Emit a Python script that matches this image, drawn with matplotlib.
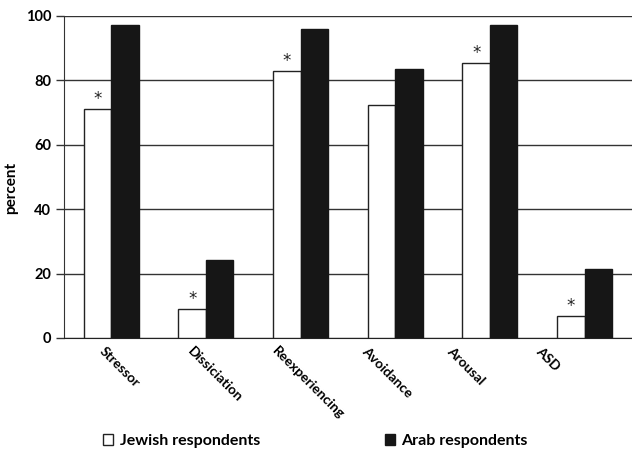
import matplotlib.pyplot as plt
import matplotlib.transforms as mtransforms
import numpy as np

categories = ["Stressor", "Dissiciation", "Reexperiencing", "Avoidance", "Arousal", "ASD"]
jewish = [71.0, 9.1, 83.0, 72.4, 85.3, 6.7]
arab = [97.3, 24.1, 95.9, 83.6, 97.3, 21.4]
significant = [True, True, True, False, True, True]

plt.rcParams["font.family"] = ["Lato", "DejaVu Sans"]
plt.rcParams["font.weight"] = "bold"
plt.rcParams["font.size"] = 10

fig = plt.figure(figsize=(6.32, 4.53), dpi=100)
ax = fig.add_axes([0.101, 0.254, 0.899, 0.711])

x = np.arange(len(categories))
w = 0.29
ax.bar(x - w / 2, jewish, w, color="white", edgecolor="#222222", linewidth=1.0,
       label="Jewish respondents", zorder=3)
ax.bar(x + w / 2, arab, w, color="#161616", edgecolor="#161616", linewidth=1.0,
       label="Arab respondents", zorder=3)

# asterisks over the significant differences
for i, v in enumerate(jewish):
    if significant[i]:
        ax.text(x[i] - w / 2, v + 0.3, "*", ha="center", va="bottom", fontsize=12,
                fontweight="normal", family="DejaVu Sans", color="#222222")

ax.set_xlim(-0.5, len(categories) - 0.5)
ax.set_ylim(0, 100)
ax.set_yticks([0, 20, 40, 60, 80, 100])
ax.yaxis.grid(True, color="#333333", linewidth=1.0, zorder=0)
ax.set_axisbelow(True)
for s in ["top", "right"]:
    ax.spines[s].set_visible(False)
ax.spines["left"].set_color("#333333")
ax.spines["bottom"].set_color("#222222")
ax.tick_params(axis="y", length=6, width=1.0, color="#333333", labelsize=10.5, pad=3)
ax.tick_params(axis="x", length=0)
ax.set_xticks(x)
ax.set_xticklabels(categories, rotation=-45, ha="left", va="top",
                   rotation_mode="anchor", fontsize=10)

# nudge the slanted labels (pixels)
shifts = [-5, -12, -22, -27, -37, -43]
for lbl, dx in zip(ax.get_xticklabels(), shifts):
    lbl.set_transform(lbl.get_transform() +
                      mtransforms.ScaledTranslation(dx / 100, -2 / 100, fig.dpi_scale_trans))

ax.set_ylabel("percent", fontsize=11, fontweight="bold")
ax.yaxis.set_label_coords(-0.081, 0.466)

fig.legend(loc="center left", bbox_to_anchor=(0.163, 0.026), ncol=2, frameon=False,
           fontsize=11.5, handlelength=0.65, handleheight=0.65, handletextpad=0.4,
           columnspacing=7.8, borderpad=0, borderaxespad=0)

fig.savefig("out.png", dpi=100)
